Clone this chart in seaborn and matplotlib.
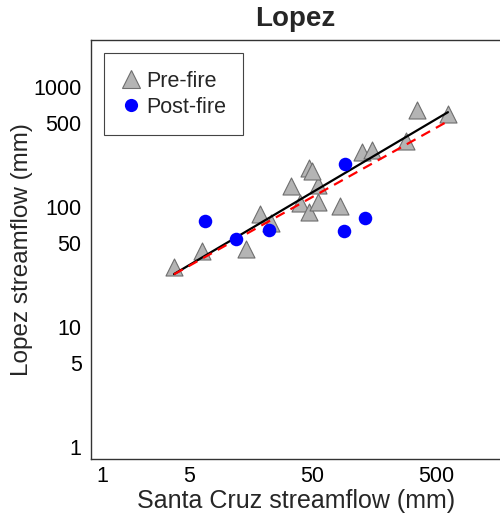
import numpy as np
import pandas as pd
import matplotlib
matplotlib.use("Agg")
import matplotlib.pyplot as plt
import seaborn as sns
from matplotlib.lines import Line2D

# ---- data ----
pre_x = [3.79, 6.43, 14.6, 18.7, 23.2, 39.4, 46.5, 55.3, 82.8, 33.3, 55.3, 46.5, 49.5, 126.5, 152, 287, 349, 622]
pre_y = [31.8, 42.6, 45.0, 87.6, 73.7, 109, 91, 111, 103, 149, 154, 213, 199, 287, 298, 355, 645, 594]
post_x = [6.71, 12.1, 22.1, 89.8, 132.7, 91]
post_y = [76.6, 54.5, 64.8, 62.7, 80.5, 231]
# log10(y) = a + b*log10(x) fits
pre_fit = (1.088, 0.610)   # solid black
all_fit = (1.105, 0.577)   # dashed red
fit_range = [3.79, 622]

xticks = [1, 5, 10, 50, 100, 500, 1000]
xticklabels = ["1", "5", "", "50", "", "500", ""]
yticks = [1, 5, 10, 50, 100, 500, 1000]
yticklabels = ["1", "5", "10", "50", "100", "500", "1000"]

sns.set_style("white")
plt.rcParams["font.family"] = ["Liberation Sans", "DejaVu Sans"]

fig = plt.figure(figsize=(5.0, 5.19), dpi=100)
ax = fig.add_axes([0.1826, 0.115, 0.8174, 0.808])

pre = pd.DataFrame({"x": pre_x, "y": pre_y})
post = pd.DataFrame({"x": post_x, "y": post_y})

fx = np.array(fit_range)
ax.plot(fx, 10 ** (pre_fit[0] + pre_fit[1] * np.log10(fx)), color="black", lw=1.6, zorder=3)
ax.plot(fx, 10 ** (all_fit[0] + all_fit[1] * np.log10(fx)), color="red", lw=1.6,
        ls=(0, (4.5, 3)), zorder=3)

sns.scatterplot(data=pre, x="x", y="y", marker="^", s=150, color="#b4b4b4",
                edgecolor="#6e6e6e", linewidth=0.8, ax=ax, zorder=2)
sns.scatterplot(data=post, x="x", y="y", marker="o", s=95, color="#0000ff",
                edgecolor="#0000ff", linewidth=0, ax=ax, zorder=4)

ax.set_xscale("log")
ax.set_yscale("log")
ax.set_xlim(0.812, 1640)
ax.set_ylim(0.785, 2483)
ax.set_xticks(xticks)
ax.set_xticklabels(xticklabels)
ax.set_yticks(yticks)
ax.set_yticklabels(yticklabels)
ax.minorticks_off()
ax.tick_params(axis="both", direction="in", length=3.6, width=0.8, colors="#222222",
               labelsize=15.5, labelcolor="black")
ax.tick_params(axis="x", pad=5)
ax.tick_params(axis="y", pad=7)
for side in ["left", "bottom", "top"]:
    ax.spines[side].set_color("#333333")
    ax.spines[side].set_linewidth(1.0)
ax.spines["right"].set_visible(False)

ax.set_xlabel("Santa Cruz streamflow (mm)", fontsize=18, labelpad=1)
ax.set_ylabel("Lopez streamflow (mm)", fontsize=17.5, labelpad=0)
ax.set_title("Lopez", fontsize=20, fontweight="bold", pad=10)

handles = [
    Line2D([], [], marker="^", ls="none", markersize=12.5, markerfacecolor="#b4b4b4",
           markeredgecolor="#6e6e6e", markeredgewidth=0.8),
    Line2D([], [], marker="o", ls="none", markersize=9.5, markerfacecolor="#0000ff",
           markeredgecolor="#0000ff", markeredgewidth=0),
]
leg = ax.legend(handles, ["Pre-fire", "Post-fire"], loc="upper left",
                bbox_to_anchor=(0.031, 0.968), borderaxespad=0, fontsize=15.5,
                frameon=True, fancybox=False, edgecolor="#444444", framealpha=1,
                handlelength=0.9, handletextpad=0.25, labelspacing=0.25,
                borderpad=0.8)
leg.get_frame().set_linewidth(0.8)

fig.savefig("out.png", dpi=100)
